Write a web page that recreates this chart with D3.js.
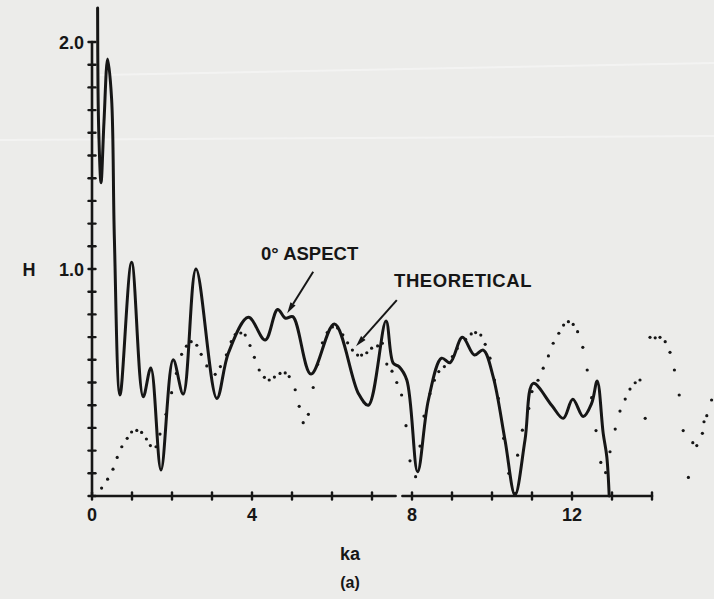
<!DOCTYPE html>
<html>
<head>
<meta charset="utf-8">
<script src="https://cdn.jsdelivr.net/npm/d3@7"></script>
<style>
  html, body { margin: 0; padding: 0; background: #ececea; }
  svg { display: block; }
  text { font-family: "Liberation Sans", Arial, Helvetica, sans-serif; font-weight: bold; fill: #161616; }
</style>
</head>
<body>
<svg id="chart" width="714" height="599"></svg>
<script>
// Measured response H versus ka at 0° aspect: [ka, H]
const aspect0 = [
  [0.14, 2.15], [0.15, 1.80], [0.17, 1.60], [0.225, 1.38], [0.30, 1.65], [0.39, 1.925],
  [0.49, 1.75], [0.56, 1.13], [0.70, 0.445], [0.99, 1.03], [1.28, 0.437],
  [1.47, 0.564], [1.725, 0.115], [2.03, 0.60], [2.28, 0.449], [2.60, 1.00], [3.12, 0.43],
  [3.41, 0.63], [3.91, 0.787], [4.33, 0.687], [4.64, 0.822], [4.84, 0.783], [5.02, 0.79],
  [5.475, 0.537], [6.06, 0.758], [6.66, 0.452], [6.91, 0.40], [7.35, 0.771], [7.53, 0.585],
  [7.675, 0.57], [7.87, 0.511], [8.14, 0.107], [8.41, 0.423], [8.74, 0.607], [8.95, 0.587],
  [9.26, 0.699], [9.56, 0.621], [9.78, 0.643], [10.03, 0.525], [10.325, 0.247], [10.575, 0.004],
  [10.825, 0.247], [11.03, 0.496], [11.49, 0.40], [11.78, 0.342], [12.02, 0.426], [12.28, 0.35],
  [12.49, 0.408], [12.63, 0.507], [12.78, 0.276], [12.87, 0.173], [12.93, 0.0]
];

// Theoretical response, plotted point by point: [ka, H]
const theoretical = [
  [0.24, 0.035], [0.39, 0.074], [0.525, 0.118], [0.63, 0.17], [0.745, 0.217], [0.88, 0.254],
  [0.99, 0.282], [1.12, 0.289], [1.24, 0.28], [1.36, 0.251], [1.46, 0.222], [1.60, 0.217],
  [1.70, 0.273], [1.85, 0.36], [1.99, 0.455], [2.11, 0.54], [2.24, 0.624], [2.36, 0.66],
  [2.48, 0.68], [2.62, 0.664], [2.73, 0.624], [2.87, 0.573], [3.08, 0.536], [3.21, 0.57],
  [3.36, 0.622], [3.48, 0.68], [3.58, 0.711], [3.72, 0.718], [3.83, 0.709], [3.95, 0.663],
  [4.06, 0.611], [4.18, 0.555], [4.31, 0.523], [4.43, 0.511], [4.56, 0.524], [4.70, 0.54],
  [4.83, 0.542], [4.93, 0.526], [5.08, 0.468], [5.18, 0.395], [5.28, 0.323], [5.41, 0.36],
  [5.53, 0.478], [5.64, 0.58], [5.76, 0.675], [5.88, 0.72], [6.01, 0.745], [6.14, 0.74],
  [6.27, 0.71], [6.39, 0.675], [6.51, 0.643], [6.64, 0.621], [6.74, 0.621], [6.87, 0.631],
  [6.99, 0.651], [7.14, 0.661], [7.26, 0.673], [7.37, 0.581], [7.50, 0.55], [7.62, 0.50],
  [7.74, 0.445], [7.85, 0.31], [7.95, 0.155], [8.09, 0.085], [8.20, 0.22], [8.30, 0.352],
  [8.45, 0.45], [8.56, 0.51], [8.67, 0.548], [8.81, 0.57], [9.01, 0.614], [9.13, 0.65],
  [9.34, 0.69], [9.48, 0.714], [9.59, 0.72], [9.72, 0.709], [9.83, 0.668], [9.95, 0.607],
  [10.06, 0.511], [10.16, 0.43], [10.29, 0.254], [10.42, 0.10], [10.58, 0.012], [10.64, 0.18],
  [10.76, 0.29], [10.92, 0.386], [11.00, 0.46], [11.15, 0.51], [11.28, 0.563], [11.41, 0.617],
  [11.53, 0.673], [11.67, 0.717], [11.79, 0.753], [11.91, 0.768], [12.03, 0.756], [12.14, 0.724],
  [12.27, 0.655], [12.38, 0.555], [12.49, 0.433], [12.60, 0.288], [12.72, 0.148], [12.84, 0.103],
  [12.95, 0.195], [13.08, 0.295], [13.20, 0.374], [13.33, 0.427], [13.45, 0.471], [13.58, 0.499],
  [13.70, 0.511], [13.83, 0.342], [13.95, 0.699], [14.08, 0.697], [14.20, 0.699], [14.33, 0.68],
  [14.45, 0.633], [14.56, 0.555], [14.68, 0.445], [14.78, 0.288], [14.91, 0.082], [15.02, 0.235],
  [15.12, 0.222], [15.26, 0.276], [15.30, 0.327], [15.37, 0.354], [15.49, 0.423]
];

const xTickLabels = [0, 4, 8, 12];
const xTickMarks = d3.range(0, 15, 1);
const yTickLabels = [1.0, 2.0];
const yTickMarks = d3.range(0, 21).map(i => i / 10);
const xAxisSegments = [[0, 7.59], [7.76, 14]];

const ink = "#161616";
const svg = d3.select("#chart");

const x = d3.scaleLinear().domain([0, 14]).range([92, 652]);
const y = d3.scaleLinear().domain([0, 2]).range([496, 42]);

// faint light streaks across the sheet
svg.append("line").attr("x1", 100).attr("y1", 75).attr("x2", 714).attr("y2", 63)
  .attr("stroke", "#fafafa").attr("stroke-width", 2).attr("opacity", 0.55);
svg.append("line").attr("x1", 0).attr("y1", 140).attr("x2", 714).attr("y2", 136)
  .attr("stroke", "#fafafa").attr("stroke-width", 2).attr("opacity", 0.55);

// x axis, broken just short of ka = 8
const axes = svg.append("g").attr("stroke", ink).attr("stroke-linecap", "round");
xAxisSegments.forEach(([a, b]) => {
  axes.append("line").attr("x1", x(a)).attr("x2", x(b)).attr("y1", y(0)).attr("y2", y(0))
    .attr("stroke-width", 2.6);
});
axes.selectAll(".xt").data(xTickMarks).join("line")
  .attr("x1", d => x(d)).attr("x2", d => x(d))
  .attr("y1", y(0) - 3.5).attr("y2", y(0) + 3.5).attr("stroke-width", 2.4);

// y axis
axes.append("line").attr("x1", x(0)).attr("x2", x(0)).attr("y1", y(0)).attr("y2", y(2))
  .attr("stroke-width", 2.6);
axes.selectAll(".yt").data(yTickMarks).join("line")
  .attr("x1", x(0) - 3.5).attr("x2", x(0) + 3.5)
  .attr("y1", d => y(d)).attr("y2", d => y(d)).attr("stroke-width", 2.4);

// tick labels
svg.selectAll(".xl").data(xTickLabels).join("text")
  .attr("x", d => x(d)).attr("y", y(0) + 25)
  .attr("text-anchor", "middle").attr("font-size", 18)
  .text(d => d);
svg.selectAll(".yl").data(yTickLabels).join("text")
  .attr("x", x(0) - 8).attr("y", d => y(d) + 6.5)
  .attr("text-anchor", "end").attr("font-size", 18)
  .text(d => d.toFixed(1));

// axis titles
svg.append("text").attr("x", 29).attr("y", y(1) + 6.5).attr("text-anchor", "middle")
  .attr("font-size", 18).text("H");
svg.append("text").attr("x", 350).attr("y", 560).attr("text-anchor", "middle")
  .attr("font-size", 18).text("ka");
svg.append("text").attr("x", 350).attr("y", 588).attr("text-anchor", "middle")
  .attr("font-size", 16).text("(a)");

// theoretical points
svg.append("g").attr("fill", ink).selectAll("circle").data(theoretical).join("circle")
  .attr("cx", d => x(d[0])).attr("cy", d => y(d[1])).attr("r", 1.6);

// measured curve
const line = d3.line().x(d => x(d[0])).y(d => y(d[1])).curve(d3.curveCatmullRom.alpha(0.5));
svg.append("path").datum(aspect0).attr("d", line)
  .attr("fill", "none").attr("stroke", ink).attr("stroke-width", 3)
  .attr("stroke-linejoin", "round").attr("stroke-linecap", "round");

// annotations with arrows
function arrow(from, to) {
  const x1 = x(from[0]), y1 = y(from[1]), x2 = x(to[0]), y2 = y(to[1]);
  const ang = Math.atan2(y2 - y1, x2 - x1);
  const len = 11, half = 3;
  const bx = x2 - len * Math.cos(ang), by = y2 - len * Math.sin(ang);
  svg.append("line").attr("x1", x1).attr("y1", y1).attr("x2", bx).attr("y2", by)
    .attr("stroke", ink).attr("stroke-width", 2);
  const px = -Math.sin(ang) * half, py = Math.cos(ang) * half;
  svg.append("path")
    .attr("d", `M${x2},${y2}L${bx + px},${by + py}L${bx - px},${by - py}Z`)
    .attr("fill", ink);
}
svg.append("text").attr("x", 261).attr("y", 260).attr("font-size", 18.5).text("0° ASPECT");
arrow([5.53, 0.988], [4.88, 0.805]);
svg.append("text").attr("x", 394).attr("y", 287).attr("font-size", 18.5)
  .attr("letter-spacing", 0.6).text("THEORETICAL");
arrow([7.62, 0.863], [6.6, 0.66]);
</script>
</body>
</html>
